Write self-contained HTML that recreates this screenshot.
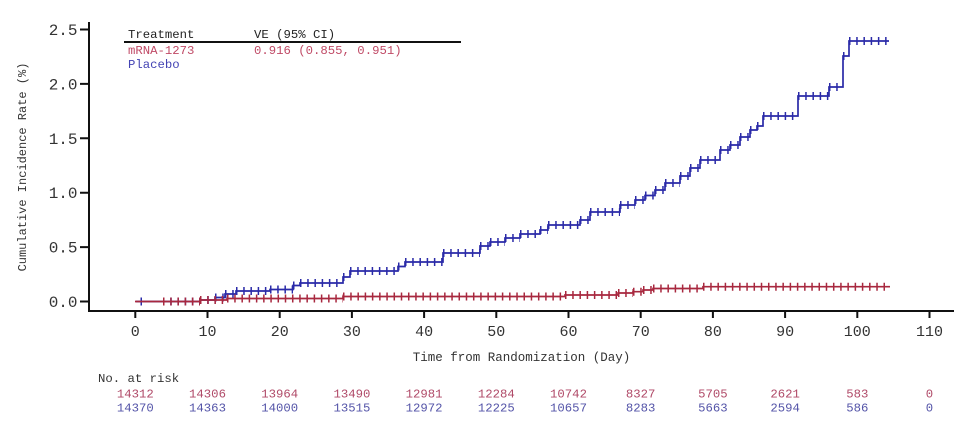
<!DOCTYPE html>
<html>
<head>
<meta charset="utf-8">
<style>
html,body{margin:0;padding:0;background:#fff;}
svg{display:block;}
text{font-family:"Liberation Mono","DejaVu Sans Mono",monospace;}
</style>
</head>
<body>
<svg width="960" height="424" viewBox="0 0 960 424" xmlns="http://www.w3.org/2000/svg">
<rect width="960" height="424" fill="#fff"/>

<!-- axes -->
<g stroke="#111" stroke-width="2" fill="none">
  <path d="M89,22 V311 H954"/>
  <path d="M80,301.5 H89 M80,247.1 H89 M80,192.7 H89 M80,138.3 H89 M80,83.9 H89 M80,29.5 H89"/>
  <path d="M135.3,311 V318 M207.5,311 V318 M279.7,311 V318 M351.9,311 V318 M424.1,311 V318 M496.3,311 V318 M568.5,311 V318 M640.7,311 V318 M712.9,311 V318 M785.1,311 V318 M857.3,311 V318 M929.5,311 V318"/>
</g>

<!-- y tick labels -->
<g font-size="16" fill="#333" text-anchor="end">
  <text x="77.5" y="307">0.0</text>
  <text x="77.5" y="252.6">0.5</text>
  <text x="77.5" y="198.2">1.0</text>
  <text x="77.5" y="143.8">1.5</text>
  <text x="77.5" y="89.4">2.0</text>
  <text x="77.5" y="35">2.5</text>
</g>

<!-- x tick labels -->
<g font-size="15" fill="#333" text-anchor="middle">
  <text x="135.3" y="336">0</text>
  <text x="207.5" y="336">10</text>
  <text x="279.7" y="336">20</text>
  <text x="351.9" y="336">30</text>
  <text x="424.1" y="336">40</text>
  <text x="496.3" y="336">50</text>
  <text x="568.5" y="336">60</text>
  <text x="640.7" y="336">70</text>
  <text x="712.9" y="336">80</text>
  <text x="785.1" y="336">90</text>
  <text x="857.3" y="336">100</text>
  <text x="929.5" y="336">110</text>
</g>

<!-- axis titles -->
<text x="521.5" y="361" font-size="12.5" fill="#333" text-anchor="middle">Time from Randomization (Day)</text>
<text transform="translate(26,167) rotate(-90)" font-size="12" fill="#333" text-anchor="middle">Cumulative Incidence Rate (%)</text>

<!-- legend -->
<g font-size="12.3">
  <text x="128" y="38" fill="#222">Treatment</text>
  <text x="254" y="38" fill="#222">VE (95% CI)</text>
  <text x="128" y="54" fill="#c04a66">mRNA-1273</text>
  <text x="254" y="54" fill="#c04a66">0.916 (0.855, 0.951)</text>
  <text x="128" y="68" fill="#4444b4">Placebo</text>
</g>
<path d="M124,42 H461" stroke="#111" stroke-width="2"/>

<!-- Placebo curve -->
<path fill="none" stroke="#2a2aa8" stroke-width="1.7" d="M136,301.5 H200 V300 H215 V297.5 H225 V294 H236 V291 H270 V289.5 H293 V285.5 H300 V283 H343 V277 H350 V271 H398 V266.5 H405 V262 H443 V253 H480 V246 H490 V242 H505 V238 H520 V234 H540 V230 H548 V225 H580 V220 H590 V212 H620 V205 H635 V200 H645 V195.5 H655 V190 H665 V183 H680 V176 H690 V168 H700 V160 H720 V150 H730 V145 H740 V137 H750 V130 H757 V126 H763 V116 H798 V96 H829 V87 H843 V56 H849 V41 H889"/>
<path fill="none" stroke="#2a2aa8" stroke-width="8" stroke-dasharray="1.5 5.72" d="M140.5,301.5 H142 M163,301.5 H200 M200,300 H215 M215,297.5 H225 M225,294 H236 M236,291 H270 M270,289.5 H293 M293,285.5 H300 M300,283 H343 M343,277 H350 M350,271 H398 M398,266.5 H405 M405,262 H443 M443,253 H480 M480,246 H490 M490,242 H505 M505,238 H520 M520,234 H540 M540,230 H548 M548,225 H580 M580,220 H590 M590,212 H620 M620,205 H635 M635,200 H645 M645,195.5 H655 M655,190 H665 M665,183 H680 M680,176 H690 M690,168 H700 M700,160 H720 M720,150 H730 M730,145 H740 M740,137 H750 M750,130 H757 M757,126 H763 M763,116 H798 M798,96 H829 M829,87 H843 M843,56 H849 M849,41 H889"/>

<!-- mRNA-1273 curve -->
<path fill="none" stroke="#a8283f" stroke-width="1.7" d="M135,301.5 H200 V300 H227 V298.5 H343 V296.5 H565 V295 H618 V293 H633 V291.7 H643 V290 H653 V288.5 H703 V286.7 H890"/>
<path fill="none" stroke="#a8283f" stroke-width="8" stroke-dasharray="1.5 5.72" d="M163,301.5 H200 M200,300 H227 M227,298.5 H343 M343,296.5 H565 M565,295 H618 M618,293 H633 M633,291.7 H643 M643,290 H653 M653,288.5 H703 M703,286.7 H890"/>

<!-- number at risk -->
<text x="98" y="382" font-size="12.3" fill="#333">No. at risk</text>
<g font-size="12.3" text-anchor="middle" fill="#b04a68">
  <text x="135.3" y="397.5">14312</text>
  <text x="207.5" y="397.5">14306</text>
  <text x="279.7" y="397.5">13964</text>
  <text x="351.9" y="397.5">13490</text>
  <text x="424.1" y="397.5">12981</text>
  <text x="496.3" y="397.5">12284</text>
  <text x="568.5" y="397.5">10742</text>
  <text x="640.7" y="397.5">8327</text>
  <text x="712.9" y="397.5">5705</text>
  <text x="785.1" y="397.5">2621</text>
  <text x="857.3" y="397.5">583</text>
  <text x="929.5" y="397.5">0</text>
</g>
<g font-size="12.3" text-anchor="middle" fill="#5454a8">
  <text x="135.3" y="411.5">14370</text>
  <text x="207.5" y="411.5">14363</text>
  <text x="279.7" y="411.5">14000</text>
  <text x="351.9" y="411.5">13515</text>
  <text x="424.1" y="411.5">12972</text>
  <text x="496.3" y="411.5">12225</text>
  <text x="568.5" y="411.5">10657</text>
  <text x="640.7" y="411.5">8283</text>
  <text x="712.9" y="411.5">5663</text>
  <text x="785.1" y="411.5">2594</text>
  <text x="857.3" y="411.5">586</text>
  <text x="929.5" y="411.5">0</text>
</g>
</svg>
</body>
</html>
